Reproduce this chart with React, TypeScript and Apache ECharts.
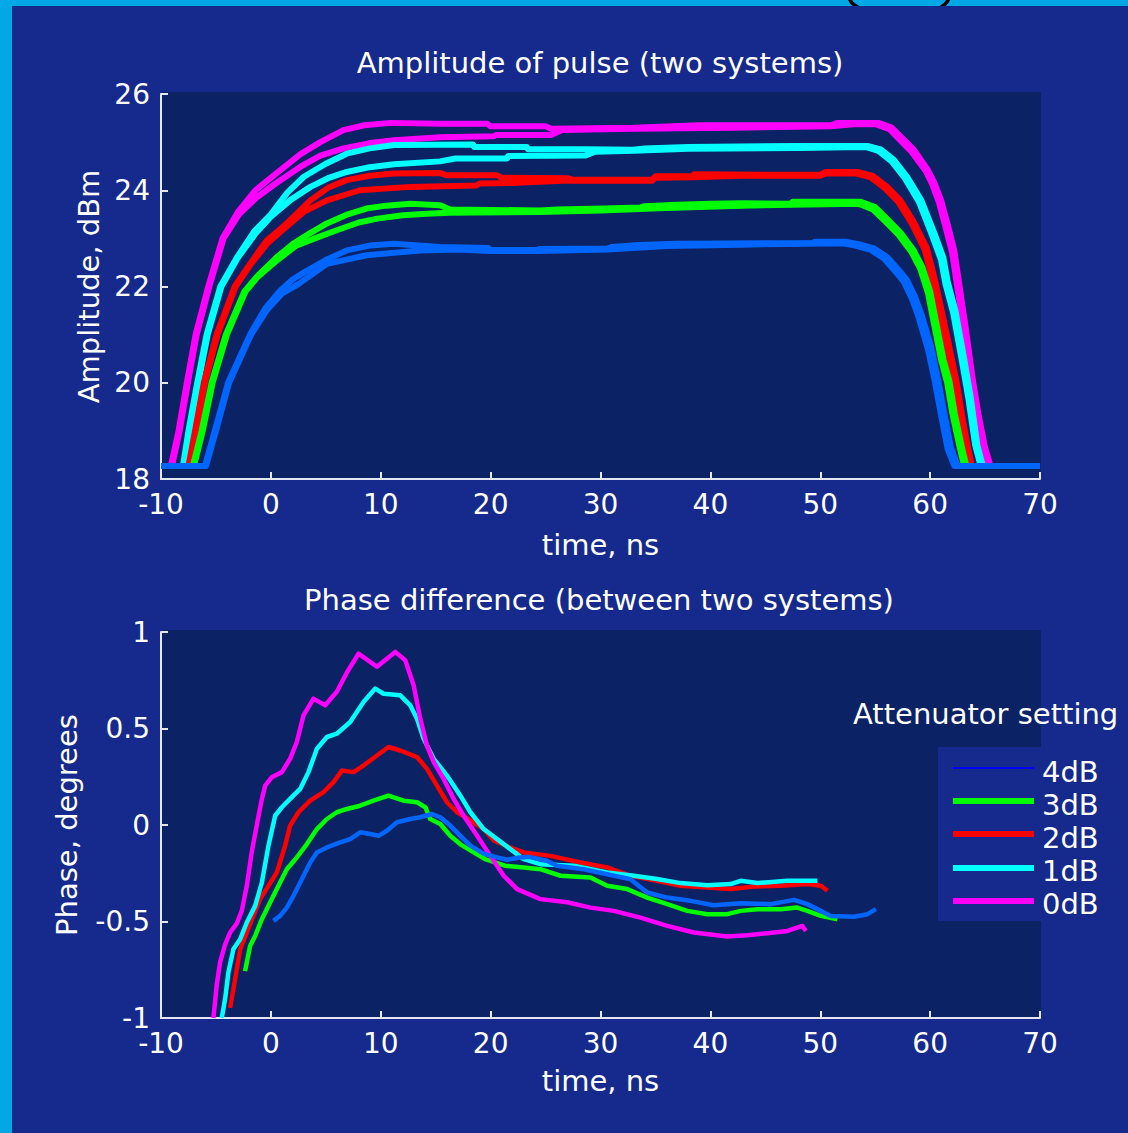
import React, { useEffect, useRef } from "react";
import * as echarts from "echarts";

// ---------- data ----------
const timeRange = [-10, 70];
const ampRange = [18, 26];
const phaseRange = [-1, 1];

const seriesNames = ["4dB", "3dB", "2dB", "1dB", "0dB"];

// Amplitude (two systems A/B per attenuator setting): [time ns, dBm]
const amp0A = [[-10,18.27],[-9.1,18.27],[-8.4,19.0],[-7.65,20.0],[-6.85,21.0],[-5.7,22.0],[-4.4,23.0],[-3.0,23.55],[-1.4,24.0],[0.5,24.35],[2.7,24.75],[4.5,25.0],[6.6,25.25],[8.5,25.35],[10.9,25.4],[15.4,25.38],[19.7,25.38],[20.0,25.33],[25.0,25.33],[25.5,25.28],[33.0,25.3],[39.0,25.35],[51.0,25.35],[51.5,25.4],[55.3,25.4],[56.5,25.3],[57.3,25.12],[58.5,24.85],[59.8,24.42],[60.4,24.15],[61.0,23.79],[61.7,23.2],[62.2,22.75],[62.6,22.13],[63.2,21.2],[63.9,20.04],[64.4,19.35],[65.0,18.65],[65.5,18.27],[70,18.27]];
const amp0B = [[-10,18.27],[-9.0,18.27],[-8.3,19.0],[-7.55,20.0],[-6.75,21.0],[-5.6,22.0],[-4.3,23.0],[-2.9,23.5],[-1.3,23.85],[0.5,24.15],[2.7,24.49],[4.5,24.72],[6.6,24.87],[9.0,24.98],[11.2,25.04],[15.4,25.1],[20.3,25.12],[20.5,25.15],[25.5,25.15],[26.5,25.25],[33.0,25.28],[42.0,25.3],[51.0,25.33],[53.0,25.37],[55.1,25.37],[56.3,25.27],[57.1,25.08],[58.3,24.8],[59.6,24.4],[60.2,24.12],[60.8,23.75],[61.5,23.15],[62.0,22.7],[62.4,22.1],[63.0,21.2],[63.7,20.04],[64.2,19.35],[64.8,18.65],[65.3,18.27],[70,18.27]];
const amp1A = [[-10,18.27],[-8.0,18.27],[-7.5,19.0],[-6.7,20.0],[-5.85,21.0],[-4.6,22.0],[-3.1,22.6],[-1.5,23.15],[0.0,23.5],[1.5,23.95],[3.0,24.28],[5.0,24.55],[6.9,24.76],[9.0,24.87],[11.2,24.94],[18.4,24.95],[18.5,24.9],[23.3,24.9],[23.4,24.85],[28.6,24.85],[33.0,24.84],[34.0,24.87],[38.0,24.9],[48.0,24.92],[54.3,24.92],[55.5,24.85],[56.7,24.63],[57.9,24.28],[59.2,23.79],[60.4,23.1],[61.2,22.6],[61.6,22.1],[62.3,21.5],[63.1,20.5],[63.7,19.69],[64.3,18.7],[64.8,18.27],[70,18.27]];
const amp1B = [[-10,18.27],[-7.9,18.27],[-7.4,19.0],[-6.6,20.0],[-5.75,21.0],[-4.5,22.0],[-3.0,22.6],[-1.4,23.1],[0.0,23.45],[1.8,23.8],[3.6,24.07],[5.2,24.25],[6.9,24.38],[9.0,24.48],[11.2,24.54],[15.4,24.6],[16.8,24.66],[21.5,24.66],[21.6,24.71],[28.6,24.72],[29.5,24.8],[33.0,24.82],[38.0,24.86],[48.0,24.88],[54.1,24.9],[55.3,24.82],[56.5,24.6],[57.7,24.25],[59.0,23.75],[60.2,23.05],[61.0,22.55],[61.4,22.05],[62.1,21.45],[62.9,20.45],[63.5,19.65],[64.1,18.7],[64.6,18.27],[70,18.27]];
const amp2A = [[-10,18.27],[-7.5,18.27],[-6.9,19.0],[-6.1,20.0],[-4.95,21.0],[-3.3,22.0],[-1.9,22.47],[-0.4,22.95],[1.1,23.24],[3.6,23.79],[5.2,24.05],[6.9,24.21],[9.0,24.3],[11.2,24.35],[15.4,24.36],[16.0,24.31],[20.6,24.31],[21.0,24.26],[27.0,24.25],[27.5,24.22],[34.7,24.22],[35.0,24.29],[38.4,24.29],[38.5,24.33],[50.0,24.32],[50.5,24.38],[53.4,24.38],[54.8,24.3],[56.1,24.07],[57.3,23.79],[58.5,23.35],[59.7,22.8],[60.45,22.13],[61.45,21.08],[62.4,20.04],[63.0,19.2],[63.5,18.6],[63.8,18.27],[70,18.27]];
const amp2B = [[-10,18.27],[-7.4,18.27],[-6.8,19.0],[-6.0,20.0],[-4.85,21.0],[-3.2,22.0],[-1.8,22.47],[-0.3,22.9],[1.2,23.2],[3.0,23.55],[5.1,23.79],[8.1,24.0],[12.7,24.07],[18.7,24.1],[19.0,24.14],[22.0,24.15],[27.0,24.2],[34.7,24.2],[35.0,24.26],[38.4,24.27],[42.8,24.3],[50.0,24.3],[50.5,24.35],[53.2,24.35],[54.6,24.27],[55.9,24.04],[57.1,23.76],[58.3,23.32],[59.5,22.77],[60.25,22.1],[61.25,21.05],[62.2,20.0],[62.8,19.2],[63.3,18.6],[63.6,18.27],[70,18.27]];
const amp3A = [[-10,18.27],[-7.1,18.27],[-6.3,19.0],[-5.4,20.0],[-4.1,21.0],[-2.4,21.9],[-1.3,22.2],[0.5,22.6],[2.1,22.9],[3.5,23.1],[5.1,23.31],[7.0,23.5],[8.7,23.62],[10.5,23.68],[12.7,23.72],[15.4,23.69],[16.3,23.6],[24.5,23.58],[26.0,23.6],[30.3,23.62],[33.6,23.64],[34.0,23.67],[37.0,23.7],[40.0,23.72],[42.8,23.73],[47.3,23.72],[47.5,23.76],[53.7,23.76],[55.0,23.65],[56.1,23.4],[57.3,23.12],[58.5,22.75],[59.3,22.4],[60.0,21.9],[60.4,21.43],[61.2,20.5],[61.75,20.04],[62.25,19.35],[62.95,18.6],[63.3,18.27],[70,18.27]];
const amp3B = [[-10,18.27],[-7.0,18.27],[-6.2,19.0],[-5.3,20.0],[-4.0,21.0],[-2.3,21.9],[-1.2,22.2],[0.6,22.55],[2.3,22.85],[4.0,23.0],[6.0,23.17],[8.0,23.33],[9.7,23.41],[12.0,23.48],[14.2,23.51],[16.3,23.53],[24.5,23.55],[30.0,23.58],[36.0,23.63],[42.8,23.68],[47.5,23.7],[53.5,23.72],[54.8,23.6],[55.9,23.36],[57.1,23.08],[58.3,22.72],[59.1,22.37],[59.8,21.87],[60.2,21.4],[61.0,20.48],[61.55,20.0],[62.05,19.33],[62.75,18.6],[63.1,18.27],[70,18.27]];
const amp4A = [[-10,18.27],[-6.0,18.27],[-5.1,19.0],[-3.9,20.0],[-1.9,21.0],[-0.5,21.55],[0.8,21.9],[2.0,22.15],[3.3,22.33],[5.0,22.55],[6.9,22.75],[9.0,22.85],[11.2,22.89],[15.4,22.82],[19.8,22.8],[20.0,22.76],[24.2,22.76],[24.5,22.78],[30.6,22.79],[31.0,22.82],[33.5,22.86],[37.0,22.89],[49.3,22.9],[49.5,22.93],[52.3,22.93],[53.5,22.88],[54.9,22.79],[56.1,22.61],[57.3,22.3],[57.9,22.13],[58.6,21.8],[59.2,21.43],[60.1,20.74],[60.75,20.04],[61.3,19.35],[61.9,18.65],[62.5,18.27],[70,18.27]];
const amp4B = [[-10,18.27],[-5.9,18.27],[-5.0,19.0],[-3.8,20.0],[-1.8,21.0],[-0.4,21.5],[1.0,21.85],[2.5,22.05],[5.1,22.47],[8.7,22.65],[13.6,22.75],[17.0,22.77],[20.0,22.74],[24.2,22.74],[30.6,22.77],[36.0,22.84],[42.8,22.87],[52.0,22.9],[53.2,22.85],[54.6,22.76],[55.8,22.58],[57.0,22.27],[57.6,22.1],[58.3,21.77],[58.9,21.4],[59.8,20.7],[60.45,20.0],[61.0,19.32],[61.6,18.62],[62.2,18.27],[70,18.27]];

// Phase difference: [time ns, degrees]
const phase4 = [[0.23,-0.497],[0.84,-0.471],[1.45,-0.428],[2.06,-0.367],[2.82,-0.281],[3.58,-0.194],[4.19,-0.142],[5.1,-0.116],[6.31,-0.09],[7.22,-0.073],[8.13,-0.038],[9.04,-0.047],[9.8,-0.056],[10.56,-0.03],[11.48,0.014],[12.69,0.031],[13.6,0.04],[14.67,0.057],[15.42,0.04],[16.33,-0.003],[17.25,-0.056],[18.16,-0.107],[19.37,-0.148],[20.59,-0.168],[21.5,-0.18],[22.5,-0.17],[23.5,-0.165],[25.1,-0.185],[26.05,-0.211],[28.48,-0.229],[30.61,-0.255],[32.73,-0.281],[34.25,-0.35],[36.08,-0.376],[38.18,-0.393],[40.32,-0.416],[42.76,-0.405],[45.49,-0.41],[47.62,-0.388],[48.83,-0.41],[50.96,-0.471],[53.08,-0.475],[54.3,-0.462],[55.06,-0.436]];
const phase3 = [[-2.35,-0.757],[-1.89,-0.627],[-1.43,-0.575],[-0.82,-0.488],[-0.07,-0.402],[0.84,-0.298],[1.45,-0.229],[2.36,-0.168],[3.28,-0.099],[4.19,-0.021],[5.1,0.031],[6.0,0.066],[6.92,0.083],[8.13,0.1],[9.34,0.126],[10.71,0.152],[12.08,0.126],[13.3,0.118],[14.06,0.092],[14.51,0.031],[15.42,0.005],[16.33,-0.056],[17.25,-0.1],[18.46,-0.142],[19.5,-0.177],[21.3,-0.211],[23.01,-0.22],[24.53,-0.229],[26.36,-0.263],[29.09,-0.272],[30.61,-0.315],[32.43,-0.332],[34.25,-0.376],[36.08,-0.41],[37.9,-0.445],[39.72,-0.462],[41.54,-0.462],[42.76,-0.445],[44.28,-0.436],[46.4,-0.436],[47.92,-0.428],[48.83,-0.445],[50.05,-0.471],[51.57,-0.488]];
const phase2 = [[-3.71,-0.947],[-3.26,-0.8],[-2.8,-0.644],[-2.19,-0.557],[-1.59,-0.471],[-0.98,-0.384],[-0.22,-0.315],[0.54,-0.246],[1.3,-0.107],[1.75,-0.003],[2.51,0.066],[3.58,0.126],[4.79,0.17],[5.7,0.222],[6.46,0.282],[7.52,0.274],[8.43,0.308],[9.65,0.36],[10.71,0.404],[11.78,0.386],[13.3,0.352],[14.21,0.291],[15.12,0.204],[16.03,0.118],[16.94,0.066],[18.0,0.031],[19.37,-0.021],[20.3,-0.08],[21.5,-0.11],[23.01,-0.142],[25.45,-0.16],[28.18,-0.194],[30.61,-0.22],[32.73,-0.263],[35.16,-0.289],[37.29,-0.315],[39.72,-0.324],[41.85,-0.332],[43.97,-0.319],[46.4,-0.315],[48.83,-0.306],[50.05,-0.315],[50.66,-0.341]];
const phase1 = [[-4.47,-1.0],[-4.17,-0.904],[-3.87,-0.765],[-3.41,-0.644],[-2.8,-0.592],[-2.19,-0.505],[-1.43,-0.419],[-0.82,-0.298],[-0.22,-0.107],[0.39,0.048],[1.0,0.092],[1.75,0.135],[2.67,0.187],[3.42,0.274],[4.19,0.395],[5.1,0.456],[6.0,0.473],[7.22,0.534],[8.43,0.637],[9.5,0.707],[10.26,0.68],[11.78,0.672],[12.69,0.62],[13.3,0.55],[13.9,0.447],[14.82,0.343],[16.03,0.256],[17.25,0.152],[18.16,0.066],[19.37,-0.021],[20.59,-0.073],[21.8,-0.125],[23.01,-0.177],[24.53,-0.203],[27.57,-0.211],[30.61,-0.246],[33.03,-0.263],[35.16,-0.28],[37.29,-0.301],[39.72,-0.312],[41.85,-0.306],[42.76,-0.289],[44.28,-0.301],[47.01,-0.289],[48.83,-0.289],[49.74,-0.289]];
const phase0 = [[-5.23,-1.0],[-4.93,-0.83],[-4.62,-0.71],[-4.17,-0.62],[-3.71,-0.557],[-3.1,-0.51],[-2.65,-0.445],[-2.19,-0.315],[-1.74,-0.14],[-1.28,0.0],[-0.82,0.135],[-0.52,0.204],[0.09,0.248],[1.0,0.274],[1.75,0.343],[2.36,0.43],[2.97,0.568],[3.88,0.655],[4.94,0.62],[6.0,0.69],[6.92,0.79],[7.98,0.888],[9.65,0.82],[11.32,0.897],[12.23,0.854],[12.99,0.724],[13.6,0.55],[14.21,0.41],[14.82,0.326],[15.72,0.239],[16.64,0.135],[17.55,0.048],[18.77,-0.056],[19.98,-0.16],[21.19,-0.263],[22.41,-0.332],[24.53,-0.384],[26.97,-0.4],[29.09,-0.428],[31.21,-0.445],[33.64,-0.48],[36.08,-0.523],[38.5,-0.557],[41.54,-0.578],[43.37,-0.571],[45.19,-0.561],[47.01,-0.549],[48.38,-0.523],[48.68,-0.549]];

// ---------- style ----------
const FONT = '"DejaVu Sans", sans-serif';
const FS = 29;
const TICK_FS = 28;
const FRAME = "#00A8E6";
const BG = "#152A8C";
const PLOT_BG = "#0B2264";
const AXIS = "#E4E6F2";
const COLORS: Record<string, string> = {
  "4dB": "#0066FF",
  "3dB": "#00FF00",
  "2dB": "#FF0000",
  "1dB": "#00FFFF",
  "0dB": "#FF00FF",
};
const LEGEND_COLORS: Record<string, string> = { ...COLORS, "4dB": "#0000FF" };

function xAxisCfg(gridIndex: number, nameGap: number) {
  return {
    type: "value",
    gridIndex,
    min: timeRange[0],
    max: timeRange[1],
    interval: 10,
    axisLine: { show: true, onZero: false, lineStyle: { color: AXIS, width: 2 } },
    axisTick: { show: true, inside: true, length: 7, lineStyle: { color: AXIS, width: 2 } },
    axisLabel: { color: "#FFFFFF", fontFamily: FONT, fontSize: TICK_FS, margin: 14, lineHeight: 22 },
    splitLine: { show: false },
    name: "time, ns",
    nameLocation: "middle",
    nameGap,
    nameTextStyle: { color: "#FFFFFF", fontFamily: FONT, fontSize: FS },
  };
}

function yAxisCfg(gridIndex: number, range: number[], interval: number, name: string, nameGap: number) {
  return {
    type: "value",
    gridIndex,
    min: range[0],
    max: range[1],
    interval,
    axisLine: { show: true, onZero: false, lineStyle: { color: AXIS, width: 2 } },
    axisTick: { show: true, inside: true, length: 7, lineStyle: { color: AXIS, width: 2 } },
    axisLabel: { color: "#FFFFFF", fontFamily: FONT, fontSize: TICK_FS, margin: 11, lineHeight: 22 },
    splitLine: { show: false },
    name,
    nameLocation: "middle",
    nameRotate: 90,
    nameGap,
    nameTextStyle: { color: "#FFFFFF", fontFamily: FONT, fontSize: FS },
  };
}

function lineSeries(name: string, data: number[][], color: string, width: number, axisIndex: number) {
  return {
    type: "line",
    name,
    data,
    xAxisIndex: axisIndex,
    yAxisIndex: axisIndex,
    showSymbol: false,
    symbol: "none",
    clip: true,
    lineStyle: { color, width, cap: "butt", join: "round" },
    itemStyle: { color },
    emphasis: { disabled: true },
    silent: true,
  };
}

const ampSets: [string, number[][], number[][]][] = [
  ["0dB", amp0A, amp0B],
  ["1dB", amp1A, amp1B],
  ["2dB", amp2A, amp2B],
  ["3dB", amp3A, amp3B],
  ["4dB", amp4A, amp4B],
];
const phaseSets: [string, number[][]][] = [
  ["2dB", phase2],
  ["3dB", phase3],
  ["1dB", phase1],
  ["0dB", phase0],
  ["4dB", phase4],
];

const legendRowsY = [768, 801, 834, 868, 901];
const legendTextY = [772, 805, 838, 871, 904];

function buildOption() {
  const series: any[] = [];
  ampSets.forEach(([n, a, b]) => {
    series.push(lineSeries(n + " system A", a, COLORS[n], 6, 0));
    series.push(lineSeries(n + " system B", b, COLORS[n], 6, 0));
  });
  phaseSets.forEach(([n, d]) => {
    series.push(lineSeries(n, d, COLORS[n], 4.5, 1));
  });

  const txt = (text: string, x: number, y: number, align: string, lineHeight?: number) => ({
    type: "text",
    z: 10,
    x,
    y,
    style: {
      text,
      fill: "#FFFFFF",
      font: `${FS}px ${FONT}`,
      align,
      verticalAlign: "middle",
      ...(lineHeight ? { lineHeight } : {}),
    },
  });

  const graphic: any[] = [
    { type: "bezierCurve", z: -20, shape: { x1: 849, y1: -2, x2: 858, y2: 7, cpx1: 851, cpy1: 4 }, style: { stroke: "#000000", lineWidth: 3.5, fill: "none" } },
    { type: "bezierCurve", z: -20, shape: { x1: 949, y1: -2, x2: 941, y2: 7, cpx1: 947, cpy1: 4 }, style: { stroke: "#000000", lineWidth: 3.5, fill: "none" } },
    { type: "rect", z: -10, shape: { x: 12, y: 6, width: 1116, height: 1127 }, style: { fill: BG } },
    { type: "rect", z: -5, shape: { x: 162, y: 92, width: 879, height: 387 }, style: { fill: PLOT_BG } },
    { type: "rect", z: -5, shape: { x: 162, y: 630, width: 879, height: 388 }, style: { fill: PLOT_BG } },
    txt("Amplitude of pulse (two systems)", 600, 63, "center"),
    txt("Phase difference (between two systems)", 599, 600, "center"),
    txt("Attenuator setting", 853, 714, "left"),
    { type: "rect", z: 8, shape: { x: 938, y: 747, width: 103, height: 174 }, style: { fill: BG } },
  ];
  seriesNames.forEach((n, i) => {
    graphic.push({
      type: "line",
      z: 10,
      shape: { x1: 953, y1: legendRowsY[i], x2: 1034, y2: legendRowsY[i] },
      style: { stroke: LEGEND_COLORS[n], lineWidth: n === "4dB" ? 2 : 6 },
    });
    graphic.push(txt(n, 1042, legendTextY[i], "left", 28));
  });

  return {
    animation: false,
    backgroundColor: FRAME,
    grid: [
      { left: 161, top: 94, width: 879, height: 385, show: false },
      { left: 161, top: 632, width: 879, height: 386, show: false },
    ],
    xAxis: [xAxisCfg(0, 51), xAxisCfg(1, 48)],
    yAxis: [
      yAxisCfg(0, ampRange, 2, "Amplitude, dBm", 56),
      yAxisCfg(1, phaseRange, 0.5, "Phase, degrees", 80),
    ],
    graphic,
    series,
  };
}

export default function App() {
  const ref = useRef<HTMLDivElement>(null);
  useEffect(() => {
    if (!ref.current) return;
    const chart = echarts.init(ref.current, null, { renderer: "svg", width: 1128, height: 1133 });
    chart.setOption(buildOption() as any);
    return () => chart.dispose();
  }, []);
  return (
    <div
      ref={ref}
      style={{ position: "absolute", left: 0, top: 0, width: 1128, height: 1133 }}
    />
  );
}
